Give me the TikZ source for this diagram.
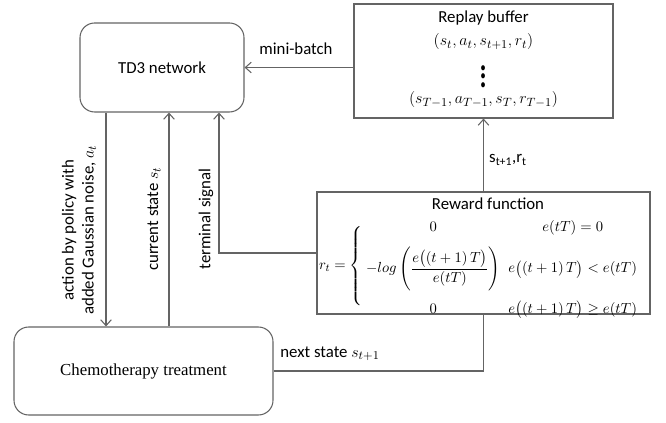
\documentclass[tikz,border=0pt]{standalone}
\usepackage{amsmath,amssymb}
\usepackage{graphicx}
\usepackage{fontspec}
\setmainfont{Carlito}
\newfontfamily\seriffont{Liberation Serif}
\usetikzlibrary{arrows.meta}
\definecolor{grigio}{RGB}{100,100,100}

\begin{document}
\begin{tikzpicture}[x=0.75pt, y=-0.75pt, line width=0.8pt,
		>={Straight Barb[length=4.5pt, width=8pt]}]
	% Stili per blocchi, scatole e etichette
	\tikzset{
		blocco/.style={draw=grigio, rounded corners=11pt, inner sep=0pt},
		scatola/.style={draw=grigio, inner sep=0pt},
		testo/.style={inner sep=1pt, font=\fontsize{12.6}{15}\selectfont},
		freccia/.style={draw=grigio, ->}
	}
	\useasboundingbox (0,0) rectangle (666,423);

	% Blocchi principali
	\node[blocco, minimum width=123pt, minimum height=66.75pt] (td3) at (162,67.5) {};
	\node[testo] (td3t) at (162,67.5) {TD3 network};
	\node[scatola, minimum width=194.25pt, minimum height=85.5pt] (buffer) at (483.5,61) {};
	\node[scatola, minimum width=249.75pt, minimum height=91.5pt] (reward) at (483.5,253) {};
	\node[blocco, minimum width=194.25pt, minimum height=66pt] (chemo) at (143.5,371) {};
	\node[testo, font=\seriffont\fontsize{12.6}{15}\selectfont] (chemot) at (143.5,371) {Chemotherapy treatment};

	% Contenuto del replay buffer
	\node[testo] (buft) at (483.5,18) {Replay buffer};
	\node[testo] (tupla1) at (483.5,42) {$(s_t, a_t, s_{t+1}, r_t)$};
	\node[inner sep=0pt, font=\fontsize{20}{22}\selectfont] (punti) at (483.5,70) {\scalebox{1.2}[1.6]{$\boldsymbol{\vdots}$}};
	\node[testo] (tupla2) at (483.5,100) {$(s_{T-1}, a_{T-1}, s_T, r_{T-1})$};

	% Funzione di ricompensa
	\node[testo] (rewt) at (488,204) {Reward function};
	\node[testo, font=\fontsize{11}{12}\selectfont] (formula) at (480,266) {$\renewcommand{\arraystretch}{1.95}\setlength{\arraycolsep}{3pt}
		r_t=\left\{\vrule width 0pt height 33pt depth 28pt\right.\!\!
		\begin{array}{cc}
			0 & e(tT)=0\\[5pt]
			-log\left(\dfrac{e\big((t+1)\,T\big)}{e(tT)}\right) & e\big((t+1)\,T\big)<e(tT)\\
			0 & e\big((t+1)\,T\big)\geq e(tT)
		\end{array}$};

	% Punti di appoggio per le linee verticali
	\coordinate (xa) at (106,0);
	\coordinate (xs) at (169,0);
	\coordinate (xt) at (219,0);

	% Collegamenti
	\draw[freccia] (buffer.west |- td3.east) -- (td3.east);
	\draw[freccia] (reward.north) -- (buffer.south);
	\draw[freccia] (td3.south -| xa) -- (chemo.north -| xa);
	\draw[freccia] (chemo.north -| xs) -- (td3.south -| xs);
	\draw[freccia] (reward.west) -| (td3.south -| xt);
	\draw[draw=grigio] (chemo.east) -| (reward.south);

	% Etichette dei collegamenti
	\node[testo] (lbatch) at (296,49) {mini-batch};
	\node[testo] (lstato) at (508,160) {s\textsubscript{t+1},r\textsubscript{t}};
	\node[testo] (lnext) at (330,354) {next state $s_{t+1}$};
	\node[testo, rotate=90, align=center] (lazione) at (79,230) {action by policy with\\added Gaussian noise, $a_t$};
	\node[testo, rotate=90] (lcorr) at (154,219) {current state $s_t$};
	\node[testo, rotate=90] (lterm) at (206,219) {terminal signal};
\end{tikzpicture}
\end{document}
